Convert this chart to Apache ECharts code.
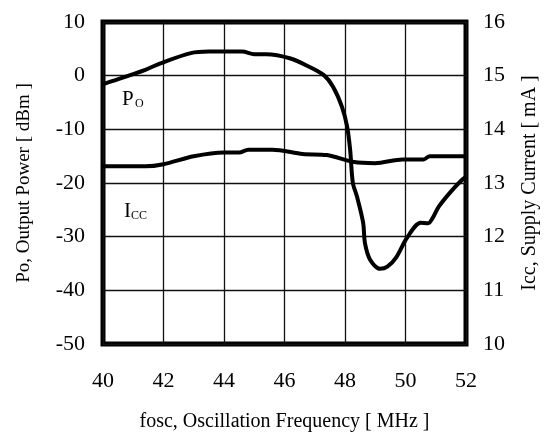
<!DOCTYPE html>
<html>
<head>
<meta charset="utf-8">
<script src="https://cdn.jsdelivr.net/npm/echarts@6/dist/echarts.min.js"></script>
<style>
  html, body { margin: 0; padding: 0; background: #fff; }
  #chart { width: 549px; height: 437px; }
</style>
</head>
<body>
<div id="chart"></div>
<script>
// Po, output power [dBm] vs frequency [MHz]
const poFreq = [40, 40.1, 41.4, 41.9, 42.9, 43.5, 44.6, 45.0, 45.4, 46.2, 46.8, 47.3, 47.6, 47.9, 48.07, 48.17, 48.26, 48.4, 48.6, 48.66, 48.83, 49.16, 49.4, 49.7, 50.05, 50.5, 50.75, 50.9, 51.1, 51.5, 51.87, 52];
const poValues = [-1.6, -1.4, 1.1, 2.3, 4.2, 4.5, 4.5, 4.0, 4.0, 3.2, 1.7, 0.1, -2, -5.8, -9.5, -13.8, -20, -22.6, -27.4, -31.2, -34.3, -36, -35.6, -33.8, -30.2, -27.4, -27.5, -26.5, -24.4, -21.6, -19.4, -18.8];

// Icc, supply current [mA] vs frequency [MHz]
const iccFreq = [40, 41.4, 42, 43, 44, 44.5, 44.8, 45.6, 46.6, 47.4, 48.3, 49, 49.9, 50.6, 50.8, 52];
const iccValues = [13.31, 13.31, 13.35, 13.5, 13.57, 13.57, 13.62, 13.62, 13.54, 13.52, 13.39, 13.37, 13.44, 13.44, 13.5, 13.5];

const xTicks = [40, 42, 44, 46, 48, 50, 52];
const poTicks = [-50, -40, -30, -20, -10, 0, 10];
const iccTicks = [10, 11, 12, 13, 14, 15, 16];

const font = 'Liberation Serif';

function zip(xs, ys) {
  return xs.map((x, i) => [x, ys[i]]);
}

const chart = echarts.init(document.getElementById('chart'));
chart.setOption({
  animation: false,
  textStyle: { fontFamily: font, color: '#000' },
  grid: {
    left: 103,
    right: 83,
    top: 22,
    bottom: 93,
    outerBoundsMode: 'none',
    show: true,
    borderColor: '#000',
    borderWidth: 5
  },
  xAxis: {
    type: 'value',
    min: xTicks[0],
    max: xTicks[xTicks.length - 1],
    interval: 2,
    name: 'fosc, Oscillation Frequency [ MHz ]',
    nameLocation: 'middle',
    nameGap: 68,
    nameTextStyle: { fontFamily: font, fontSize: 20, color: '#000' },
    axisLine: { show: false },
    axisTick: { show: false },
    axisLabel: { margin: 26, fontFamily: font, fontSize: 22, color: '#000' },
    splitLine: { show: true, lineStyle: { color: '#111', width: 1.3 } }
  },
  yAxis: [
    {
      type: 'value',
      min: poTicks[0],
      max: poTicks[poTicks.length - 1],
      interval: 10,
      name: 'Po, Output Power [ dBm ]',
      nameLocation: 'middle',
      nameGap: 69,
      nameTextStyle: { fontFamily: font, fontSize: 19, color: '#000' },
      axisLine: { show: false },
      axisTick: { show: false },
      axisLabel: { margin: 18, fontFamily: font, fontSize: 22, color: '#000' },
      splitLine: { show: true, lineStyle: { color: '#111', width: 1.3 } }
    },
    {
      type: 'value',
      position: 'right',
      min: iccTicks[0],
      max: iccTicks[iccTicks.length - 1],
      interval: 1,
      name: 'Icc, Supply Current [ mA ]',
      nameLocation: 'middle',
      nameGap: 54,
      nameRotate: 90,
      nameTextStyle: { fontFamily: font, fontSize: 20, color: '#000' },
      axisLine: { show: false },
      axisTick: { show: false },
      axisLabel: { margin: 17, fontFamily: font, fontSize: 22, color: '#000' },
      splitLine: { show: false }
    }
  ],
  series: [
    {
      name: 'Po',
      type: 'line',
      yAxisIndex: 0,
      smooth: 0.3,
      showSymbol: false,
      lineStyle: { color: '#000', width: 4 },
      data: zip(poFreq, poValues)
    },
    {
      name: 'Icc',
      type: 'line',
      yAxisIndex: 1,
      smooth: 0.3,
      showSymbol: false,
      lineStyle: { color: '#000', width: 4 },
      data: zip(iccFreq, iccValues)
    }
  ],
  graphic: [
    { type: 'text', left: 122, top: 89, style: { text: 'P', fontFamily: font, fontSize: 21, fill: '#000' } },
    { type: 'text', left: 135, top: 98, style: { text: 'O', fontFamily: font, fontSize: 12, fill: '#000' } },
    { type: 'text', left: 124, top: 201, style: { text: 'I', fontFamily: font, fontSize: 21, fill: '#000' } },
    { type: 'text', left: 131, top: 210, style: { text: 'CC', fontFamily: font, fontSize: 12, fill: '#000' } }
  ]
});
</script>
</body>
</html>
